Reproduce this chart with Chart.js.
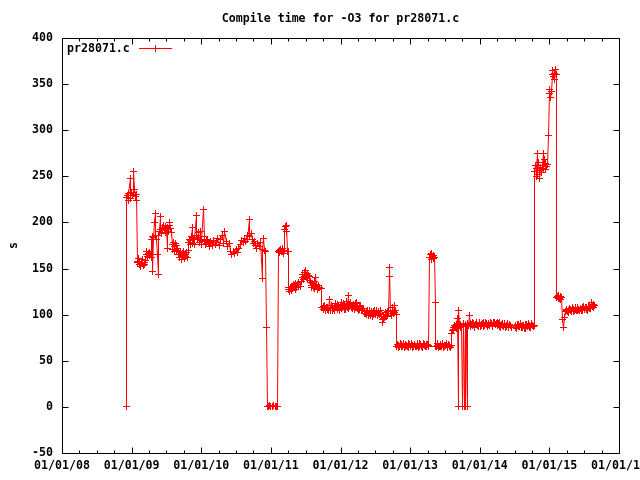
<!DOCTYPE html>
<html><head><meta charset="utf-8">
<script src="https://cdn.jsdelivr.net/npm/chart.js@4/dist/chart.umd.min.js"></script>
<style>html,body{margin:0;padding:0;background:#fff}canvas{display:block}</style>
</head><body>
<canvas id="c" width="640" height="480"></canvas>
<script>
const chartTitle = 'Compile time for -O3 for pr28071.c';
const seriesLabel = 'pr28071.c';
const yAxisLabel = 's';
const xTickYears = [2008, 2009, 2010, 2011, 2012, 2013, 2014, 2015, 2016];
const yTickValues = [-50, 0, 50, 100, 150, 200, 250, 300, 350, 400];

// sample dates (decimal years)
const dates = [
  2008.92, 2008.925, 2008.94, 2008.95, 2008.96, 2008.977, 2008.99, 2009.00, 2009.01, 2009.02, 2009.034, 2009.045, 2009.055, 2009.065, 2009.075,
  2009.08, 2009.09, 2009.10, 2009.11, 2009.12, 2009.13, 2009.14, 2009.15, 2009.16, 2009.17, 2009.18, 2009.19, 2009.20,
  2009.21, 2009.22, 2009.23, 2009.24, 2009.25, 2009.26, 2009.27, 2009.28,
  2009.29, 2009.30, 2009.307, 2009.315, 2009.325, 2009.336, 2009.345, 2009.355, 2009.365, 2009.379, 2009.39,
  2009.40, 2009.41, 2009.42, 2009.43, 2009.44, 2009.45, 2009.46, 2009.47, 2009.48, 2009.49, 2009.50, 2009.51, 2009.52, 2009.53, 2009.54, 2009.55, 2009.56, 2009.57,
  2009.58, 2009.59, 2009.60, 2009.61, 2009.62, 2009.63, 2009.64, 2009.65, 2009.66, 2009.67,
  2009.68, 2009.69, 2009.70, 2009.71, 2009.72, 2009.73, 2009.74, 2009.75, 2009.76, 2009.77, 2009.78, 2009.79, 2009.80, 2009.81,
  2009.82, 2009.83, 2009.84, 2009.85, 2009.86, 2009.87, 2009.88, 2009.89, 2009.90, 2009.91, 2009.925, 2009.935, 2009.945, 2009.955, 2009.965, 2009.975, 2009.983, 2009.99, 2010.00, 2010.01, 2010.026, 2010.04, 2010.05, 2010.06, 2010.07, 2010.08, 2010.09,
  2010.10, 2010.12, 2010.14, 2010.16, 2010.18, 2010.20, 2010.22, 2010.24, 2010.26, 2010.28, 2010.30, 2010.32, 2010.34, 2010.36, 2010.38, 2010.40,
  2010.42, 2010.44, 2010.46, 2010.48, 2010.50, 2010.52, 2010.54, 2010.56, 2010.58, 2010.60, 2010.62, 2010.64, 2010.66, 2010.67, 2010.69, 2010.70, 2010.72, 2010.73, 2010.75, 2010.77, 2010.78, 2010.80, 2010.81, 2010.83, 2010.85,
  2010.874, 2010.885, 2010.90, 2010.91, 2010.92, 2010.93, 2010.945,
  2010.96, 2010.98, 2011.00, 2011.02, 2011.04, 2011.06, 2011.08, 2011.10,
  2011.105, 2011.12, 2011.13, 2011.14, 2011.15, 2011.16, 2011.17, 2011.18, 2011.19, 2011.20, 2011.21, 2011.22, 2011.23, 2011.24, 2011.25, 2011.255,
  2011.26, 2011.27, 2011.28, 2011.29, 2011.30, 2011.31, 2011.32, 2011.33, 2011.34, 2011.35, 2011.36, 2011.37, 2011.38, 2011.39, 2011.40, 2011.42, 2011.44,
  2011.45, 2011.46, 2011.47, 2011.48, 2011.49, 2011.50, 2011.51, 2011.52, 2011.53, 2011.54, 2011.55, 2011.56, 2011.57,
  2011.58, 2011.59, 2011.60, 2011.61, 2011.62, 2011.63, 2011.64, 2011.65, 2011.66, 2011.67, 2011.68, 2011.69, 2011.70, 2011.72, 2011.73,
  2011.75, 2011.76, 2011.77, 2011.78, 2011.79, 2011.80, 2011.81, 2011.82, 2011.83, 2011.84, 2011.85, 2011.86, 2011.87, 2011.88, 2011.89, 2011.90, 2011.91, 2011.92, 2011.93, 2011.94,
  2011.95, 2011.96, 2011.97, 2011.98, 2011.99, 2012.00, 2012.01, 2012.02, 2012.03, 2012.04, 2012.05, 2012.06, 2012.07, 2012.08, 2012.09, 2012.10, 2012.11, 2012.12, 2012.13, 2012.14,
  2012.15, 2012.16, 2012.17, 2012.18, 2012.19, 2012.20, 2012.21, 2012.22, 2012.23, 2012.24, 2012.25, 2012.26, 2012.27, 2012.28, 2012.29, 2012.30, 2012.31, 2012.32, 2012.33, 2012.34, 2012.35,
  2012.36, 2012.37, 2012.38, 2012.39, 2012.40, 2012.41, 2012.42, 2012.43, 2012.44, 2012.45, 2012.46, 2012.47, 2012.48, 2012.49, 2012.50, 2012.51, 2012.52, 2012.53, 2012.54, 2012.55,
  2012.56, 2012.57, 2012.58, 2012.59, 2012.60, 2012.61, 2012.62, 2012.63, 2012.64, 2012.65, 2012.66, 2012.67, 2012.68, 2012.69,
  2012.70, 2012.71, 2012.72, 2012.73, 2012.74, 2012.75, 2012.76, 2012.77, 2012.78, 2012.79, 2012.80, 2012.81,
  2012.82, 2012.83, 2012.84, 2012.85, 2012.86, 2012.87, 2012.88, 2012.89, 2012.90, 2012.91, 2012.92, 2012.93, 2012.94, 2012.95, 2012.96, 2012.97, 2012.98, 2012.99,
  2013.00, 2013.01, 2013.02, 2013.03, 2013.04, 2013.05, 2013.06, 2013.07, 2013.08, 2013.09, 2013.10, 2013.11, 2013.12, 2013.13, 2013.14, 2013.15, 2013.16, 2013.17, 2013.18, 2013.19,
  2013.20, 2013.21, 2013.22, 2013.23, 2013.24, 2013.25, 2013.26, 2013.27,
  2013.28, 2013.29, 2013.30, 2013.31, 2013.32, 2013.33, 2013.34, 2013.35, 2013.36, 2013.37,
  2013.38, 2013.39, 2013.40, 2013.41, 2013.42, 2013.43, 2013.44, 2013.45, 2013.46, 2013.47, 2013.48, 2013.49, 2013.50, 2013.51, 2013.52, 2013.53, 2013.54, 2013.55, 2013.56, 2013.57, 2013.58, 2013.59,
  2013.60, 2013.61, 2013.62, 2013.63, 2013.64, 2013.65, 2013.66, 2013.67, 2013.68, 2013.69, 2013.70, 2013.71, 2013.72, 2013.73, 2013.74, 2013.75, 2013.76, 2013.77, 2013.78, 2013.79, 2013.80, 2013.81, 2013.82, 2013.83, 2013.84, 2013.85, 2013.86, 2013.87,
  2013.88, 2013.89, 2013.90, 2013.91, 2013.92, 2013.93, 2013.94, 2013.95, 2013.96, 2013.97, 2013.98, 2013.99,
  2014.00, 2014.01, 2014.02, 2014.03, 2014.04, 2014.05, 2014.06, 2014.07, 2014.08, 2014.09, 2014.10, 2014.11, 2014.12, 2014.13, 2014.14, 2014.15, 2014.16, 2014.17, 2014.18, 2014.19,
  2014.20, 2014.21, 2014.22, 2014.23, 2014.24, 2014.25, 2014.26, 2014.27, 2014.28, 2014.29, 2014.30, 2014.31, 2014.32, 2014.33, 2014.34, 2014.35, 2014.36, 2014.37, 2014.38, 2014.39,
  2014.40, 2014.41, 2014.42, 2014.43, 2014.44, 2014.45,
  2014.51, 2014.52, 2014.53, 2014.54, 2014.55, 2014.56, 2014.57, 2014.58, 2014.59, 2014.60, 2014.61, 2014.62, 2014.63, 2014.64, 2014.65, 2014.66, 2014.67, 2014.68, 2014.69, 2014.70,
  2014.71, 2014.72, 2014.73, 2014.74, 2014.75, 2014.76, 2014.77, 2014.78,
  2014.79, 2014.80, 2014.81, 2014.82, 2014.825, 2014.835, 2014.845, 2014.855, 2014.865, 2014.875, 2014.885, 2014.895, 2014.91, 2014.92, 2014.93, 2014.94, 2014.95, 2014.96, 2014.97,
  2014.983, 2014.995, 2015.005, 2015.015, 2015.025, 2015.04, 2015.05, 2015.06, 2015.07, 2015.08, 2015.09, 2015.10, 2015.105,
  2015.115, 2015.125, 2015.135, 2015.145, 2015.155, 2015.165, 2015.18, 2015.195, 2015.21, 2015.22,
  2015.23, 2015.24, 2015.25, 2015.26, 2015.27, 2015.28, 2015.29, 2015.30, 2015.31, 2015.32, 2015.33, 2015.34, 2015.35, 2015.36, 2015.37, 2015.38, 2015.39, 2015.40, 2015.41, 2015.42,
  2015.43, 2015.44, 2015.45, 2015.46, 2015.47, 2015.48, 2015.49, 2015.50, 2015.51, 2015.52, 2015.53, 2015.54, 2015.55, 2015.56, 2015.57, 2015.58, 2015.59, 2015.60, 2015.61, 2015.62,
  2015.63, 2015.64, 2015.65
];

// compile time (seconds)
const seconds = [
  0, 227, 229, 224, 231, 248, 226, 232, 229, 233, 255, 236, 228, 224, 230,
  158, 157, 161, 154, 158, 152, 156, 160, 155, 153, 157, 154, 159,
  165, 168, 163, 166, 164, 167, 165, 162,
  182, 185, 147, 184, 200, 210, 186, 181, 165, 144, 186,
  190, 206, 192, 188, 195, 191, 197, 193, 189, 196, 192, 172, 194, 190, 197, 200, 193, 189,
  176, 171, 178, 169, 174, 177, 170, 175, 172, 168,
  165, 162, 167, 163, 160, 166, 164, 168, 161, 165, 163, 167, 162, 170,
  178, 182, 176, 180, 185, 194, 177, 181, 176, 183, 208, 186, 182, 189, 184, 178, 190, 181, 176, 180, 214, 185, 179, 176, 180, 177, 181,
  178, 174, 179, 175, 180, 176, 178, 183, 175, 181, 186, 177, 190, 179, 174, 177,
  169, 165, 168, 166, 171, 167, 172, 176, 180, 178, 183, 179, 186, 181, 203, 185, 188, 182, 177, 179, 175, 172, 177, 174, 178,
  139, 171, 183, 170, 168, 86, 0,
  0, 1, 0, 0, 1, 0, 0, 0,
  168, 170, 167, 171, 168, 172, 169, 166, 170, 192, 196, 190, 197, 169, 168, 129,
  127, 125, 130, 126, 131, 128, 133, 129, 132, 127, 134, 130, 133, 131, 135, 131, 136,
  140, 144, 138, 146, 141, 148, 143, 139, 145, 142, 137, 141, 135,
  132, 129, 134, 130, 136, 128, 140, 131, 133, 127, 132, 129, 130, 128, 108,
  106, 109, 110, 105, 104, 108, 108, 106, 105, 116, 107, 104, 110, 108, 105, 107, 109, 105, 112, 108,
  106, 111, 110, 105, 107, 110, 113, 107, 108, 112, 111, 106, 106, 110, 114, 108, 121, 107, 109, 113,
  112, 108, 107, 110, 111, 106, 108, 112, 113, 107, 109, 105, 106, 109, 110, 106, 104, 105, 107, 101, 103,
  101, 100, 103, 104, 99, 101, 104, 99, 102, 103, 98, 100, 103, 105, 100, 102, 104, 99, 101, 103,
  100, 101, 104, 98, 95, 91, 96, 97, 100, 102, 98, 99, 103, 104,
  141, 151, 101, 99, 103, 108, 101, 110, 102, 104, 100, 66,
  68, 67, 64, 65, 69, 68, 65, 66, 68, 69, 64, 65, 68, 67, 66, 64, 69, 68,
  65, 66, 69, 67, 64, 65, 68, 68, 65, 66, 69, 67, 64, 65, 69, 68, 66, 66, 64, 69,
  68, 67, 65, 65, 68, 68, 67, 66,
  162, 165, 160, 166, 163, 161, 164, 162, 113, 66,
  65, 67, 69, 64, 66, 68, 65, 66, 68, 69, 64, 65, 67, 67, 69, 64, 65, 68, 67, 66, 64, 67,
  80, 83, 86, 84, 88, 87, 85, 89, 96, 0, 104, 88, 86, 89, 87, 0, 90, 88, 0, 89, 0, 87, 0, 90, 88, 99, 87, 90,
  89, 88, 91, 90, 86, 87, 89, 91, 90, 88, 87, 90,
  92, 87, 88, 89, 90, 91, 87, 88, 92, 90, 89, 87, 90, 89, 88, 92, 91, 90, 87, 88,
  92, 91, 89, 89, 90, 92, 88, 90, 91, 87, 86, 89, 90, 88, 87, 90, 89, 86, 87, 88,
  90, 87, 86, 89, 88, 86,
  88, 86, 85, 89, 89, 87, 87, 90, 90, 86, 86, 88, 88, 85, 85, 89, 89, 87, 87, 90,
  88, 86, 86, 89, 90, 88, 87, 88,
  255, 262, 250, 258, 275, 252, 265, 256, 248, 260, 254, 262, 275, 259, 268, 264, 257, 261, 263,
  294, 340, 344, 336, 342, 360, 365, 358, 362, 355, 366, 360, 119,
  120, 117, 121, 118, 120, 116, 119, 95, 86, 97,
  103, 105, 106, 103, 102, 105, 107, 106, 104, 103, 108, 106, 103, 105, 106, 108, 105, 104, 108, 106,
  104, 107, 107, 105, 105, 108, 109, 106, 106, 108, 108, 106, 105, 109, 109, 107, 107, 110, 113, 109,
  108, 111, 110
];

if (dates.length !== seconds.length) console.error('length mismatch', dates.length, seconds.length);

const RED = '#ff0000';
const FONT = { family: '"DejaVu Sans Mono", monospace', size: 11.6, weight: 'bold' };
const FONT_CSS = 'bold 11.6px "DejaVu Sans Mono", monospace';

// Snap the library-computed point positions to pixel centres (as gnuplot's
// bitmap terminal does) so the 1px line and "+" markers are drawn crisp.
const pixelSnapPlugin = {
  id: 'pixelSnap',
  beforeDatasetsDraw(chart) {
    chart.data.datasets.forEach((ds, i) => {
      chart.getDatasetMeta(i).data.forEach(p => {
        p.x = Math.floor(p.x) + 0.5;
        p.y = Math.floor(p.y) + 0.5;
      });
    });
  }
};

const framePlugin = {
  id: 'frame',
  afterDraw(chart) {
    const ctx = chart.ctx;
    const { left, right, top, bottom } = chart.chartArea;
    const xs = chart.scales.x, ys = chart.scales.y;
    ctx.save();
    ctx.strokeStyle = '#000';
    ctx.lineWidth = 1;
    const L = Math.round(left) + 0.5, R = Math.round(right) + 0.5;
    const T = Math.round(top) + 0.5, B = Math.round(bottom) + 0.5;
    ctx.beginPath();
    ctx.rect(L, T, R - L, B - T);
    for (let i = 0; i < xTickYears.length; i++) {
      for (let q = 0; q < 4; q++) {
        const v = xTickYears[i] + q / 4;
        if (v > xs.max) continue;
        const px = Math.round(xs.getPixelForValue(v)) + 0.5;
        const len = q === 0 ? 6 : 3;
        ctx.moveTo(px, B); ctx.lineTo(px, B - len);
        ctx.moveTo(px, T); ctx.lineTo(px, T + len);
      }
    }
    yTickValues.forEach(v => {
      const py = Math.round(ys.getPixelForValue(v)) + 0.5;
      ctx.moveTo(L, py); ctx.lineTo(L + 6, py);
      ctx.moveTo(R, py); ctx.lineTo(R - 6, py);
    });
    ctx.stroke();

    // key (legend) in the top-left of the plot
    const ds = chart.data.datasets[0];
    ctx.fillStyle = '#000';
    ctx.font = FONT_CSS;
    ctx.textAlign = 'left';
    ctx.textBaseline = 'middle';
    ctx.fillText(ds.label, 67, 49);
    ctx.fillStyle = ds.borderColor;
    ctx.fillRect(139, 48, 33, 1);
    ctx.fillRect(155, 45, 1, 7);
    ctx.restore();
  }
};

new Chart(document.getElementById('c'), {
  type: 'line',
  data: {
    datasets: [{
      label: seriesLabel,
      data: dates.map((d, i) => ({ x: d, y: seconds[i] })),
      borderColor: RED,
      backgroundColor: RED,
      borderWidth: 1,
      borderJoinStyle: 'bevel',
      tension: 0,
      fill: false,
      pointStyle: 'cross',
      pointRadius: 3.5,
      pointHoverRadius: 3.5,
      pointBorderWidth: 1,
      pointBorderColor: RED
    }]
  },
  options: {
    responsive: false,
    animation: false,
    devicePixelRatio: 1,
    events: [],
    layout: { padding: { left: 0, right: 21, top: 0, bottom: 0 } },
    plugins: {
      legend: { display: false },
      tooltip: { enabled: false },
      title: {
        display: true, text: chartTitle, fullSize: false, color: '#000', font: FONT,
        padding: { top: 12, bottom: 12.08 }
      }
    },
    scales: {
      x: {
        type: 'linear', min: 2008, max: 2016,
        afterBuildTicks: s => { s.ticks = xTickYears.map(v => ({ value: v })); },
        ticks: {
          autoSkip: false, maxRotation: 0, minRotation: 0, padding: 6, color: '#000', font: FONT,
          callback: v => '01/01/' + String(Math.round(v) % 100).padStart(2, '0')
        },
        grid: { display: false, drawTicks: false },
        border: { display: false },
        afterFit: s => { s.height = 27; s.paddingLeft = 0; s.paddingRight = 0; }
      },
      y: {
        type: 'linear', min: -50, max: 400,
        afterBuildTicks: s => { s.ticks = yTickValues.map(v => ({ value: v })); },
        ticks: { padding: 9, color: '#000', font: FONT },
        title: { display: true, text: yAxisLabel, color: '#000', font: FONT, padding: { top: 7, bottom: 0 } },
        grid: { display: false, drawTicks: false },
        border: { display: false },
        afterFit: s => { s.width = 62; s.paddingTop = 0; s.paddingBottom = 0; }
      }
    }
  },
  plugins: [pixelSnapPlugin, framePlugin]
});
</script>
</body></html>
